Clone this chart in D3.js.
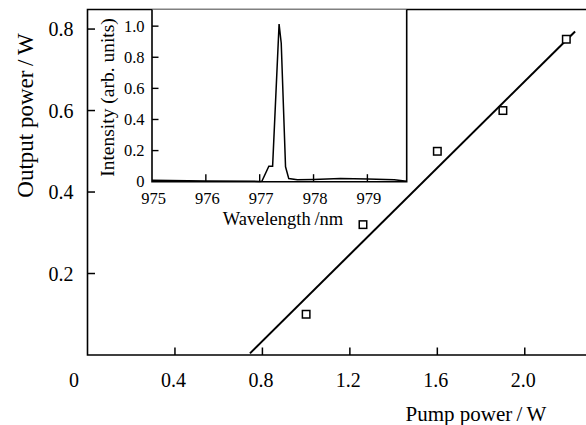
<!DOCTYPE html>
<html>
<head>
<meta charset="utf-8">
<script src="https://cdn.jsdelivr.net/npm/d3@7"></script>
<style>
body { margin: 0; background: #fff; }
text { font-family: "Liberation Serif", "DejaVu Serif", "Times New Roman", serif; fill: #000; }
</style>
</head>
<body>
<svg id="chart" width="586" height="425"></svg>
<script>
// main plot: output power vs pump power
var pumpPower = [1.0, 1.26, 1.6, 1.9, 2.19];
var outputPower = [0.10, 0.32, 0.50, 0.60, 0.775];
var fitX = [0.743, 2.23];
var fitY = [0.004, 0.794];
var xTicks = [0.4, 0.8, 1.2, 1.6, 2.0];
var yTicks = [0.2, 0.4, 0.6, 0.8];

// inset: spectrum
var wavelength = [975.0, 976.0, 977.0, 977.04, 977.17, 977.24, 977.36, 977.40, 977.48, 977.54, 977.7, 978.0, 978.5, 979.0, 979.5, 979.73];
var intensity = [0.01, 0.005, 0.002, 0.003, 0.10, 0.10, 1.013, 0.89, 0.096, 0.02, 0.012, 0.014, 0.02, 0.018, 0.012, 0.003];
var wlTicks = [975, 976, 977, 978, 979];
var intTicks = [0, 0.2, 0.4, 0.6, 0.8, 1.0];

var svg = d3.select("#chart");

var x = d3.scaleLinear().domain([0, 2.28]).range([87.5, 586]);
var y = d3.scaleLinear().domain([0, 0.848]).range([355, 9.5]);

// frame (left, top, bottom)
svg.append("path")
    .attr("d", "M586," + y(0.848) + "H" + x(0) + "V" + y(0) + "H586")
    .attr("fill", "none").attr("stroke", "#000").attr("stroke-width", 1.6);

svg.selectAll(".ytick").data(yTicks).enter().append("line")
    .attr("x1", x(0)).attr("x2", x(0) + 7.5)
    .attr("y1", d => y(d)).attr("y2", d => y(d))
    .attr("stroke", "#000").attr("stroke-width", 1.5);

svg.selectAll(".ylab").data(yTicks).enter().append("text")
    .attr("x", 73.5).attr("y", d => y(d)).attr("dy", "0.35em")
    .attr("text-anchor", "end").style("font-size", "20px")
    .text(d => d3.format(".1f")(d));

svg.selectAll(".xtick").data(xTicks).enter().append("line")
    .attr("x1", d => x(d)).attr("x2", d => x(d))
    .attr("y1", y(0)).attr("y2", y(0) - 7.5)
    .attr("stroke", "#000").attr("stroke-width", 1.5);

svg.selectAll(".xlab").data(xTicks).enter().append("text")
    .attr("x", d => x(d) - 1.5).attr("y", 387)
    .attr("text-anchor", "middle").style("font-size", "20px")
    .text(d => d3.format(".1f")(d));

svg.append("text").attr("x", 74).attr("y", 387)
    .attr("text-anchor", "middle").style("font-size", "20px").text("0");

svg.append("text").attr("x", 476).attr("y", 421)
    .attr("text-anchor", "middle").style("font-size", "21px")
    .text("Pump power\u2009/\u2009W");

svg.append("text")
    .attr("transform", "translate(33,115.5) rotate(-90)")
    .attr("text-anchor", "middle").style("font-size", "23px")
    .text("Output power\u2009/\u2009W");

// linear fit
svg.append("path")
    .datum(d3.zip(fitX, fitY))
    .attr("d", d3.line().x(d => x(d[0])).y(d => y(d[1])))
    .attr("fill", "none").attr("stroke", "#000").attr("stroke-width", 2);

svg.selectAll(".pt").data(d3.zip(pumpPower, outputPower)).enter().append("rect")
    .attr("x", d => x(d[0]) - 3.75).attr("y", d => y(d[1]) - 3.75)
    .attr("width", 7.5).attr("height", 7.5)
    .attr("fill", "#fff").attr("stroke", "#000").attr("stroke-width", 1.5);

// inset
var ix = d3.scaleLinear().domain([975, 979.73]).range([152, 406.7]);
var iy = d3.scaleLinear().domain([0, 1.107]).range([181.7, 9.5]);

svg.append("rect")
    .attr("x", ix(975)).attr("y", iy(1.107))
    .attr("width", ix(979.73) - ix(975)).attr("height", iy(0) - iy(1.107))
    .attr("fill", "#fff").attr("stroke", "none");

svg.append("path")
    .attr("d", "M" + ix(975) + "," + iy(1.107) + "V" + iy(0) + "H" + ix(979.73) + "V" + iy(1.107))
    .attr("fill", "none").attr("stroke", "#000").attr("stroke-width", 1.6);

svg.selectAll(".iytick").data(intTicks.slice(1)).enter().append("line")
    .attr("x1", ix(975)).attr("x2", ix(975) + 6.5)
    .attr("y1", d => iy(d)).attr("y2", d => iy(d))
    .attr("stroke", "#000").attr("stroke-width", 1.4);

svg.selectAll(".iylab").data(intTicks).enter().append("text")
    .attr("x", 144.5).attr("y", d => iy(d)).attr("dy", "0.35em")
    .attr("text-anchor", "end").style("font-size", "16.5px")
    .text(d => d == 0 ? "0" : d3.format(".1f")(d));

svg.selectAll(".ixtick").data(wlTicks.slice(1)).enter().append("line")
    .attr("x1", d => ix(d)).attr("x2", d => ix(d))
    .attr("y1", iy(0)).attr("y2", iy(0) - 7.5)
    .attr("stroke", "#000").attr("stroke-width", 1.4);

svg.selectAll(".ixlab").data(wlTicks).enter().append("text")
    .attr("x", d => ix(d) + 1.5).attr("y", 204)
    .attr("text-anchor", "middle").style("font-size", "16.5px")
    .text(d => d);

svg.append("text").attr("x", 283).attr("y", 225)
    .attr("text-anchor", "middle").style("font-size", "18.5px")
    .text("Wavelength\u2009/nm");

svg.append("text")
    .attr("transform", "translate(114,97.5) rotate(-90)")
    .attr("text-anchor", "middle").style("font-size", "19.5px")
    .text("Intensity (arb. units)");

svg.append("path")
    .datum(d3.zip(wavelength, intensity))
    .attr("d", d3.line().x(d => ix(d[0])).y(d => iy(d[1])))
    .attr("fill", "none").attr("stroke", "#000").attr("stroke-width", 1.5);
</script>
</body>
</html>
